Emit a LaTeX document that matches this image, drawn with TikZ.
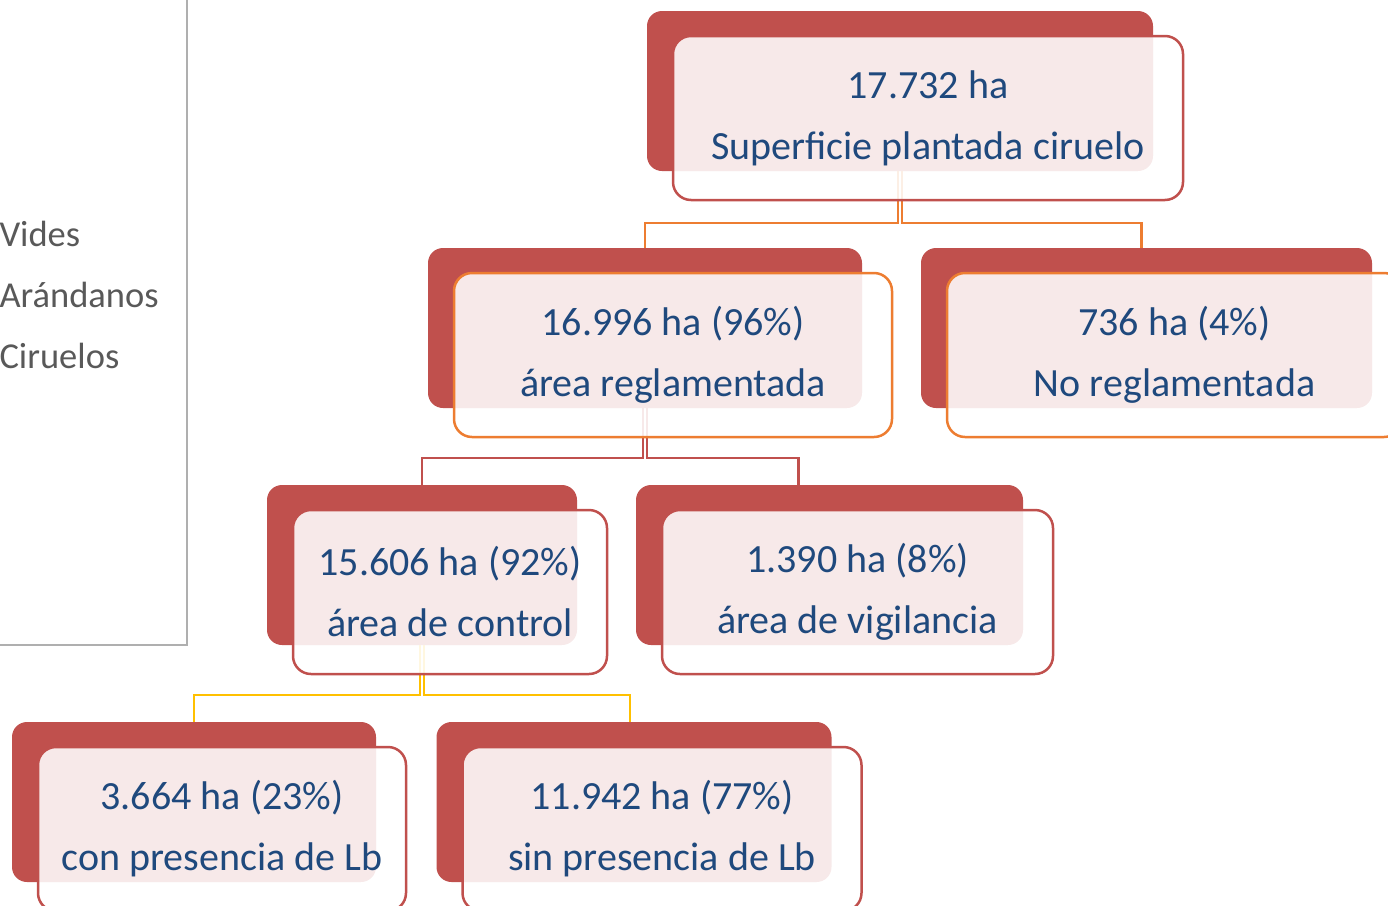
\documentclass[tikz,border=0pt]{standalone}
\usepackage{fontspec}
\setmainfont{Carlito}
\usepackage{xcolor}
\usepackage{tikz}
\definecolor{rojo}{RGB}{192,80,77}
\definecolor{naranja}{RGB}{237,125,49}
\definecolor{oro}{RGB}{255,192,0}
\definecolor{azul}{RGB}{31,73,125}
\definecolor{gris}{RGB}{89,89,89}
\definecolor{borde}{RGB}{175,175,175}

\begin{document}
\begin{tikzpicture}[x=1pt,y=-1pt,
    fondo/.style={fill=rojo,rounded corners=15pt,minimum height=160pt,inner sep=0pt},
    caja/.style={draw=#1,line width=2.5pt,fill=white,fill opacity=0.88,text opacity=1,
        rounded corners=18pt,minimum height=164pt,inner sep=0pt,align=center,
        text=azul,font=\fontsize{40}{61}\selectfont},
    enlace/.style={draw=#1,line width=2.5pt},
    leyenda/.style={anchor=base west,text=gris,font=\fontsize{36.5}{40}\selectfont}]
    \useasboundingbox (0,0) rectangle (1388,905);
    \clip (0,0) rectangle (1388,905);
    % leyenda cortada
    \draw[borde,line width=2.5pt] (-10,-10) rectangle (187,645);
    \node[leyenda] (vides) at (-4,246) {Vides};
    \node[leyenda] (arandanos) at (-4,307) {Arándanos};
    \node[leyenda] (ciruelos) at (-4,368) {Ciruelos};
    % fondos rojos
    \node[fondo,minimum width=506pt] (sup) at (900,91) {};
    \node[fondo,minimum width=434pt] (reg) at (645,328) {};
    \node[fondo,minimum width=451pt] (noreg) at (1146.5,328) {};
    \node[fondo,minimum width=310pt] (ctrl) at (422,565) {};
    \node[fondo,minimum width=387pt] (vig) at (829.5,565) {};
    \node[fondo,minimum width=364pt] (con) at (194,802) {};
    \node[fondo,minimum width=395pt] (sin) at (634,802) {};
    % conectores
    \draw[enlace=naranja] ([xshift=-2pt]sup.south) -- ++(0,52) -| (reg.north);
    \draw[enlace=naranja] ([xshift=2pt]sup.south) -- ++(0,52) -| ([xshift=-5pt]noreg.north);
    \draw[enlace=rojo] ([xshift=-2pt]reg.south) -- ++(0,50) -| (ctrl.north);
    \draw[enlace=rojo] ([xshift=2pt]reg.south) -- ++(0,50) -| ([xshift=-31pt]vig.north);
    \draw[enlace=oro] ([xshift=-2pt]ctrl.south) -- ++(0,50) -| (con.north);
    \draw[enlace=oro] ([xshift=2pt]ctrl.south) -- ++(0,50) -| ([xshift=-4pt]sin.north);
    % cajas con texto
    \node[caja=rojo,minimum width=510pt] (supT) at ([shift={(28,27)}]sup.center) {17.732 ha\\Superficie plantada ciruelo};
    \node[caja=naranja,minimum width=438pt] (regT) at ([shift={(28,27)}]reg.center) {16.996 ha (96\%)\\área reglamentada};
    \node[caja=naranja,minimum width=455pt] (noregT) at ([shift={(28,27)}]noreg.center) {736 ha (4\%)\\No reglamentada};
    \node[caja=rojo,minimum width=314pt] (ctrlT) at ([shift={(28,27)}]ctrl.center) {15.606 ha (92\%)\\área de control};
    \node[caja=rojo,minimum width=391pt] (vigT) at ([shift={(28,27)}]vig.center) {1.390 ha (8\%)\\área de vigilancia};
    \node[caja=rojo,minimum width=368pt] (conT) at ([shift={(28,27)}]con.center) {3.664 ha (23\%)\\con presencia de Lb};
    \node[caja=rojo,minimum width=399pt] (sinT) at ([shift={(28,27)}]sin.center) {11.942 ha (77\%)\\sin presencia de Lb};
\end{tikzpicture}
\end{document}
